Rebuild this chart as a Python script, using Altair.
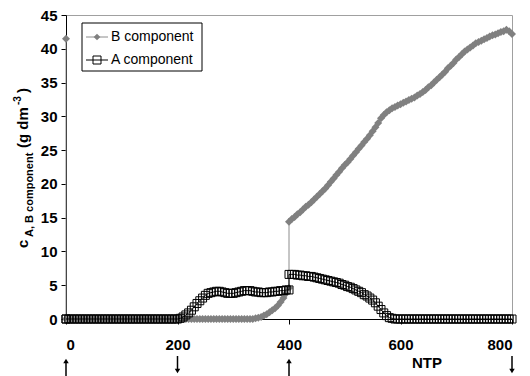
import altair as alt
import pandas as pd

FONT = "Liberation Sans"

# sampling grid of NTP (duplicate points at the switches at 0 and 400)
ntp = [0] + list(range(0, 401, 5)) + list(range(400, 801, 5))

b_comp = [
    41.5,
    0, 0, 0, 0, 0, 0, 0, 0, 0, 0,
    0, 0, 0, 0, 0, 0, 0, 0, 0, 0,
    0, 0, 0, 0, 0, 0, 0, 0, 0, 0,
    0, 0, 0, 0, 0, 0, 0, 0, 0, 0,
    0, 0, 0, 0, 0, 0, 0, 0, 0, 0,
    0, 0, 0, 0, 0, 0, 0, 0, 0, 0,
    0, 0, 0, 0, 0, 0, 0, 0,
    0.1, 0.2, 0.3, 0.5, 0.7, 1.0, 1.3, 1.6, 2.0, 2.5, 3.1, 3.8, 4.6,
    14.4, 14.8, 15.1, 15.5, 15.8, 16.2, 16.6, 16.9, 17.3, 17.7,
    18.1, 18.5, 18.9, 19.3, 19.8, 20.3, 20.8, 21.3, 21.8, 22.3,
    22.8, 23.2, 23.7, 24.2, 24.7, 25.2, 25.7, 26.2, 26.7, 27.2,
    27.8, 28.4, 29.0, 29.7, 30.2, 30.6, 30.9, 31.2, 31.4, 31.6,
    31.8, 32.0, 32.2, 32.4, 32.6, 32.8, 33.1, 33.3, 33.6, 33.9,
    34.3, 34.6, 35.0, 35.4, 35.8, 36.2, 36.6, 37.1, 37.5, 37.9,
    38.4, 38.8, 39.2, 39.6, 39.9, 40.2, 40.5, 40.8, 41.0, 41.2,
    41.4, 41.6, 41.8, 42.0, 42.1, 42.3, 42.5, 42.6, 42.8, 42.6,
    42.2,
]

a_comp = [
    0,
    0, 0, 0, 0, 0, 0, 0, 0, 0, 0,
    0, 0, 0, 0, 0, 0, 0, 0, 0, 0,
    0, 0, 0, 0, 0, 0, 0, 0, 0, 0,
    0, 0, 0, 0, 0, 0, 0, 0, 0, 0,
    0,
    0.1, 0.3, 0.6, 0.9, 1.3, 1.8, 2.3, 2.7, 3.1, 3.5,
    3.8, 3.9, 4.0, 4.1, 4.1, 4.0, 3.9, 3.8, 3.8, 3.8,
    3.9, 4.0, 4.1, 4.2, 4.2, 4.2, 4.1, 4.0, 4.0, 3.9,
    3.9, 3.9, 4.0, 4.0, 4.1, 4.1, 4.2, 4.2, 4.3, 4.3,
    6.6, 6.6, 6.6, 6.5, 6.5, 6.4, 6.4, 6.3, 6.3, 6.2,
    6.1, 6.0, 5.9, 5.8, 5.7, 5.6, 5.5, 5.4, 5.3, 5.1,
    5.0, 4.8, 4.7, 4.5, 4.3, 4.1, 3.9, 3.6, 3.4, 3.1,
    2.8, 2.4, 1.9, 1.4, 0.9, 0.5, 0.2, 0.1, 0, 0,
    0, 0, 0, 0, 0, 0, 0, 0, 0, 0,
    0, 0, 0, 0, 0, 0, 0, 0, 0, 0,
    0, 0, 0, 0, 0, 0, 0, 0, 0, 0,
    0, 0, 0, 0, 0, 0, 0, 0, 0, 0,
    0,
]

x_ticks = [0, 200, 400, 600, 800]
y_ticks = [0, 5, 10, 15, 20, 25, 30, 35, 40, 45]
arrow_ntp = [0, 200, 400, 800]
arrow_dir = ["up", "down", "up", "down"]

df_b = pd.DataFrame({"idx": range(len(ntp)), "ntp": ntp, "v": b_comp})
df_a = pd.DataFrame({"idx": range(len(ntp)), "ntp": ntp, "v": a_comp})
df_arrow = pd.DataFrame({"ntp": arrow_ntp, "dir": arrow_dir})

xs = alt.Scale(domain=[0, 800], nice=False, zero=False)
ys = alt.Scale(domain=[0, 45], nice=False)

x_axis = alt.Axis(values=x_ticks, title=None, grid=False, domainColor="black",
                  tickColor="black", tickSize=5, labelPadding=13,
                  labelFont=FONT, labelFontWeight="bold", labelFontSize=15,
                  labelColor="black")
y_axis = alt.Axis(values=y_ticks, title=None, grid=False, domainColor="black",
                  tickColor="black", tickSize=5, labelPadding=4,
                  labelFont=FONT, labelFontWeight="bold", labelFontSize=15,
                  labelColor="black")

X = alt.X("ntp:Q", scale=xs, axis=x_axis)
Y = alt.Y("v:Q", scale=ys, axis=y_axis)

b_line = alt.Chart(df_b).mark_line(color="#8c8c8c", strokeWidth=1).encode(
    x=X, y=Y, order="idx:Q")
b_pts = alt.Chart(df_b).mark_point(shape="diamond", filled=True, size=64,
                                   color="#808080", opacity=1).encode(x=X, y=Y)
a_line = alt.Chart(df_a).mark_line(color="black", strokeWidth=1).encode(
    x=X, y=Y, order="idx:Q")
a_pts = alt.Chart(df_a).mark_point(shape="square", filled=False, size=64,
                                   stroke="black", strokeWidth=1,
                                   opacity=1).encode(x=X, y=Y)

one = alt.InlineData(values=[{"k": 1}])


def txt(s, x, y, size, bold=True, angle=None, align="left", baseline="alphabetic"):
    kw = dict(font=FONT, fontSize=size, color="black", align=align,
              baseline=baseline, fontWeight="bold" if bold else "normal")
    if angle is not None:
        kw["angle"] = angle
    return alt.Chart(one).mark_text(**kw).encode(
        x=alt.value(x), y=alt.value(y), text=alt.value(s))


# y-axis title with sub/superscripts (plot-relative pixel placement)
ytitle = [
    txt("c", -38, 233, 15, angle=270),
    txt("A, B component", -33, 222, 11, angle=270),
    txt("(g dm", -38, 133, 15, angle=270),
    txt("-3", -45, 90, 10, angle=270),
    txt(")", -38, 78, 15, angle=270),
]

ntp_title = txt("NTP", 361, 348, 15, baseline="middle", align="center")

# legend
leg_box = alt.Chart(one).mark_rect(fill="white", stroke="black", strokeWidth=1).encode(
    x=alt.value(16), x2=alt.value(136), y=alt.value(8), y2=alt.value(56))
leg_b_line = alt.Chart(one).mark_rule(color="#8c8c8c", strokeWidth=1).encode(
    x=alt.value(20), x2=alt.value(42), y=alt.value(22))
leg_b_pt = alt.Chart(one).mark_point(shape="diamond", filled=True, size=45,
                                     color="#808080", opacity=1).encode(
    x=alt.value(31), y=alt.value(22))
leg_a_line = alt.Chart(one).mark_rule(color="black", strokeWidth=1).encode(
    x=alt.value(20), x2=alt.value(42), y=alt.value(45))
leg_a_pt = alt.Chart(one).mark_point(shape="square", filled=False, size=64,
                                     stroke="black", strokeWidth=1, opacity=1).encode(
    x=alt.value(31), y=alt.value(45))
leg_b_txt = txt("B component", 45, 22, 14, bold=False, baseline="middle")
leg_a_txt = txt("A component", 45, 45, 14, bold=False, baseline="middle")

# arrows under the axis (share the x scale and axis definition)
up_shaft = alt.Chart(df_arrow).transform_filter(alt.datum.dir == "up").mark_rule(
    color="black", strokeWidth=1.5).encode(x=X, y=alt.value(347), y2=alt.value(362))
up_head = alt.Chart(df_arrow).transform_filter(alt.datum.dir == "up").mark_point(
    shape="triangle-up", filled=True, size=30, color="black", opacity=1).encode(
    x=X, y=alt.value(346))
dn_shaft = alt.Chart(df_arrow).transform_filter(alt.datum.dir == "down").mark_rule(
    color="black", strokeWidth=1.5).encode(x=X, y=alt.value(341), y2=alt.value(355))
dn_head = alt.Chart(df_arrow).transform_filter(alt.datum.dir == "down").mark_point(
    shape="triangle-down", filled=True, size=30, color="black", opacity=1).encode(
    x=X, y=alt.value(356))

chart = alt.layer(
    b_line, b_pts, a_line, a_pts,
    *ytitle, ntp_title,
    leg_box, leg_b_line, leg_b_pt, leg_a_line, leg_a_pt, leg_b_txt, leg_a_txt,
    up_shaft, up_head, dn_shaft, dn_head,
).properties(
    width=446, height=304,
    padding={"left": 66, "top": 15, "right": 18, "bottom": 57},
    autosize=alt.AutoSizeParams(type="none"),
    background="white",
).configure_view(stroke="#a0a0a0", strokeWidth=1)

chart.save("out.html", embed_options={"renderer": "svg", "actions": False})
